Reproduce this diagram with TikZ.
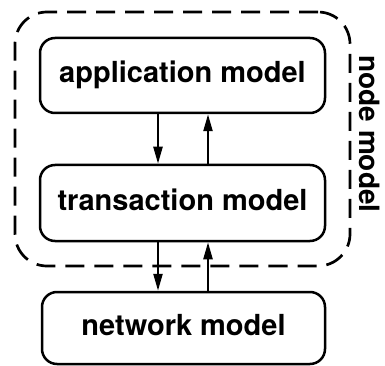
\documentclass[tikz,border=0pt]{standalone}
\usepackage{fontspec}
\setmainfont{TeX Gyre Heros}
\usetikzlibrary{arrows.meta}
\begin{document}
\begin{tikzpicture}[x=1pt,y=-1pt,
  model/.style={draw,line width=2.5pt,rounded corners=15pt,inner sep=0pt,
    font=\fontsize{29}{33}\selectfont\bfseries,text height=21pt,text depth=6pt},
  flow/.style={line width=2.3pt,-{Triangle[length=17pt,width=9pt]}}]
\useasboundingbox (0,0) rectangle (385,366);
\node[draw,dashed,dash pattern=on 19pt off 10pt,line width=2.7pt,rounded corners=32pt,
  minimum width=335pt,minimum height=254pt] (outer) at (182.5,139) {};
\node[model,minimum width=285pt,minimum height=75pt] (app) at (182.5,75.5) {application model};
\node[model,minimum width=285pt,minimum height=76pt] (trans) at (182.5,203) {transaction model};
\node[model,minimum width=283pt,minimum height=72pt] (net) at (183.5,328) {network model};
\node[rotate=-90,font=\fontsize{28}{32}\selectfont\bfseries,inner sep=0pt] (lbl) at (370,134) {node model};
\draw[flow] ([xshift=-24.5pt]app.south) -- ([xshift=-24.5pt]trans.north);
\draw[flow] ([xshift=25.5pt]trans.north) -- ([xshift=25.5pt]app.south);
\draw[flow] ([xshift=-24.5pt]trans.south) -- ([xshift=-25.5pt]net.north);
\draw[flow] ([xshift=24.5pt]net.north) -- ([xshift=25.5pt]trans.south);
\end{tikzpicture}
\end{document}
